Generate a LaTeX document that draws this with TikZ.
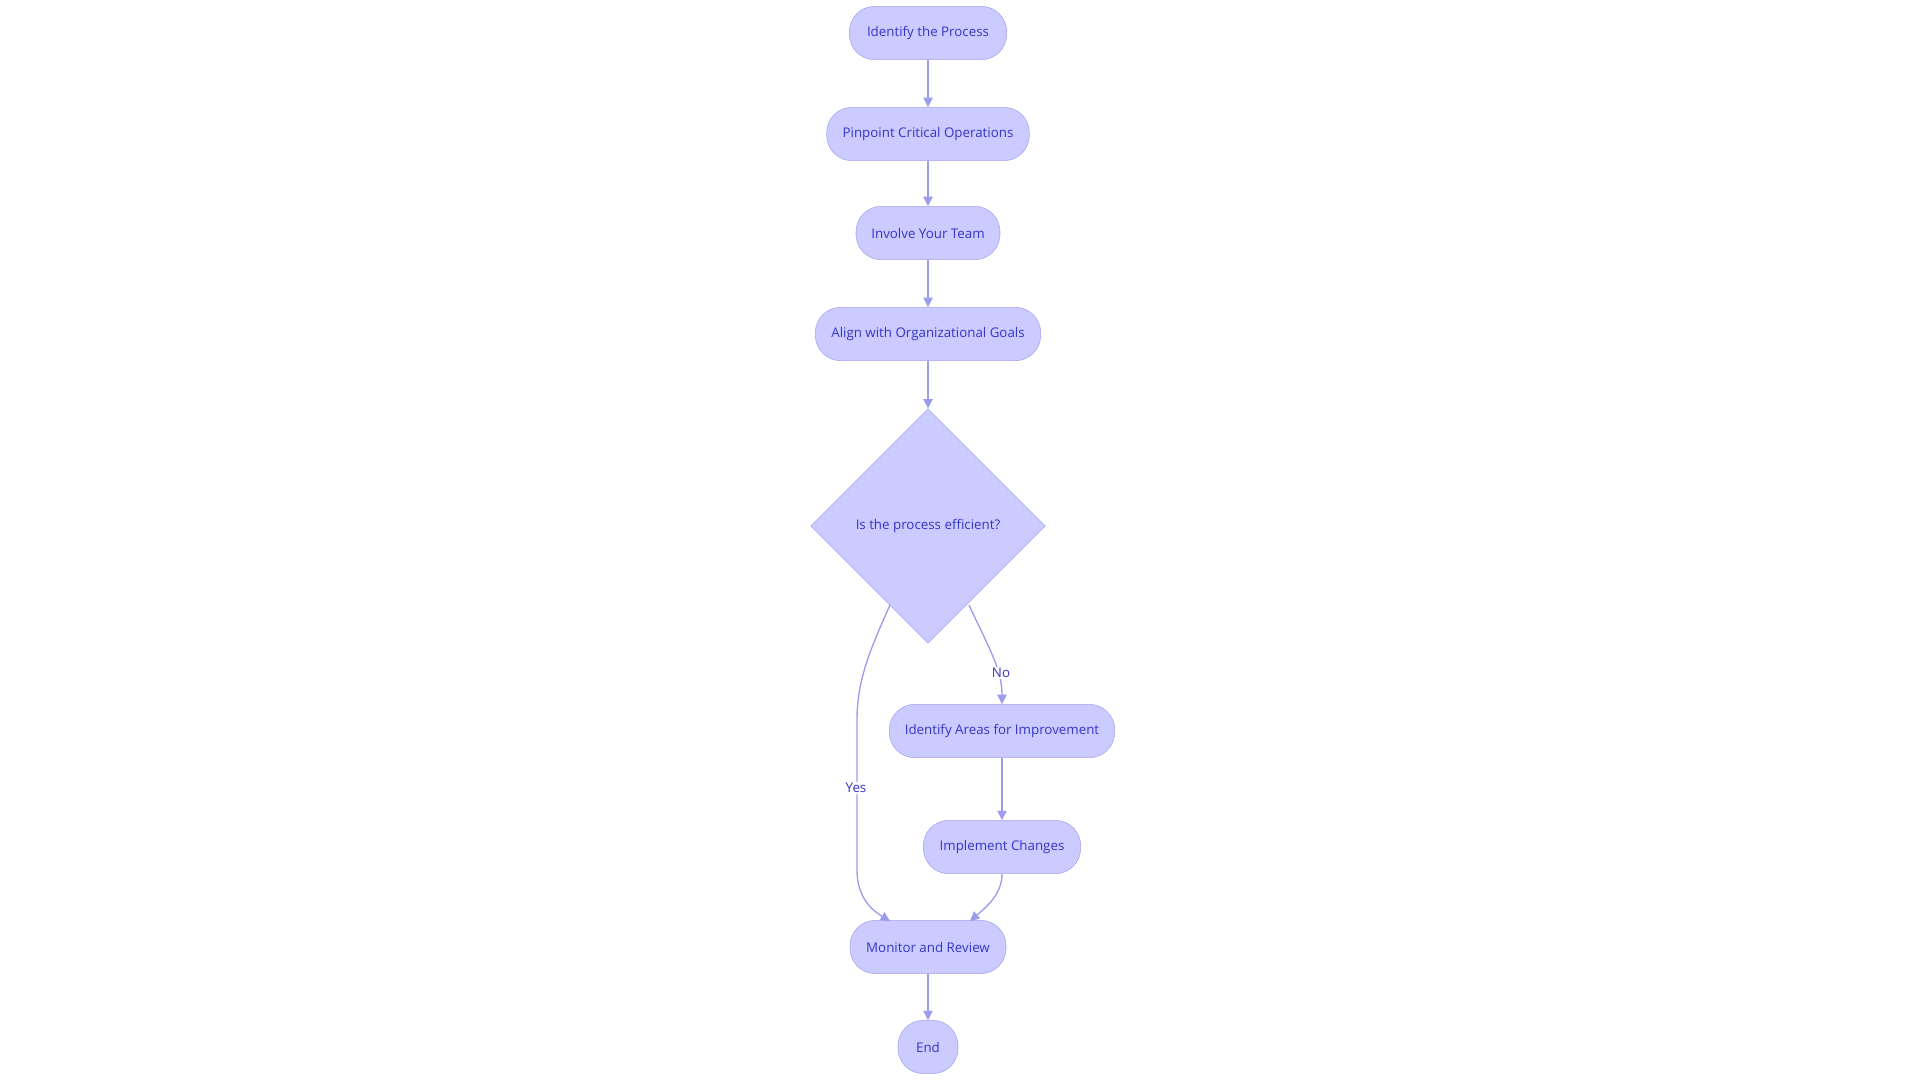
\documentclass[tikz,border=0pt]{standalone}
\usepackage{fontspec}
\setmainfont{Open Sans}
\usetikzlibrary{shapes.geometric,arrows.meta}
\definecolor{fillc}{HTML}{CBCBFF}
\definecolor{bordc}{HTML}{A3A3F0}
\definecolor{linec}{HTML}{9C9CEE}
\definecolor{textc}{HTML}{3535C8}
\begin{document}
\begin{tikzpicture}[x=0.75pt,y=-0.75pt,
  box/.style={draw=bordc,fill=fillc,rounded corners=19pt,minimum height=40pt,text=textc,font=\fontsize{10}{12}\selectfont,inner sep=0pt},
  dia/.style={draw=bordc,fill=fillc,diamond,minimum width=176pt,minimum height=176pt,text=textc,font=\fontsize{10}{12}\selectfont,inner sep=0pt},
  conn/.style={draw=linec,line width=1pt,-{Triangle[length=7pt,width=7pt]}},
  lbl/.style={fill=white,text=textc,font=\fontsize{10}{12}\selectfont,inner sep=1pt}]
\useasboundingbox (0,0) rectangle (1920,1083);
\node[box,minimum width=118pt] (a) at (928,33) {Identify the Process};
\node[box,minimum width=152pt] (b) at (928,134) {Pinpoint Critical Operations};
\node[box,minimum width=108pt] (c) at (928,233) {Involve Your Team};
\node[box,minimum width=169pt] (d) at (928,334) {Align with Organizational Goals};
\node[dia] (e) at (928,526) {Is the process efficient?};
\node[box,minimum width=169pt] (f) at (1002,731) {Identify Areas for Improvement};
\node[box,minimum width=118pt] (g) at (1002,847) {Implement Changes};
\node[box,minimum width=117pt] (h) at (928,947) {Monitor and Review};
\node[box,minimum width=45pt] (i) at (928,1047) {End};
\draw[conn] (a) -- (b);
\draw[conn] (b) -- (c);
\draw[conn] (c) -- (d);
\draw[conn] (d) -- (e.north);
\draw[conn] (969,605) .. controls (990,650) and (1002,670) .. (f.north);
\node[lbl] (no) at (1001,673) {No};
\draw[conn] (890,605) .. controls (870,650) and (857,680) .. (857,720) -- (857,870) .. controls (857,900) and (875,912) .. (890,921);
\node[lbl] (yes) at (856,788) {Yes};
\draw[conn] (f) -- (g);
\draw[conn] (g.south) .. controls (1002,895) and (985,908) .. (970,921);
\draw[conn] (h) -- (i);
\end{tikzpicture}
\end{document}
